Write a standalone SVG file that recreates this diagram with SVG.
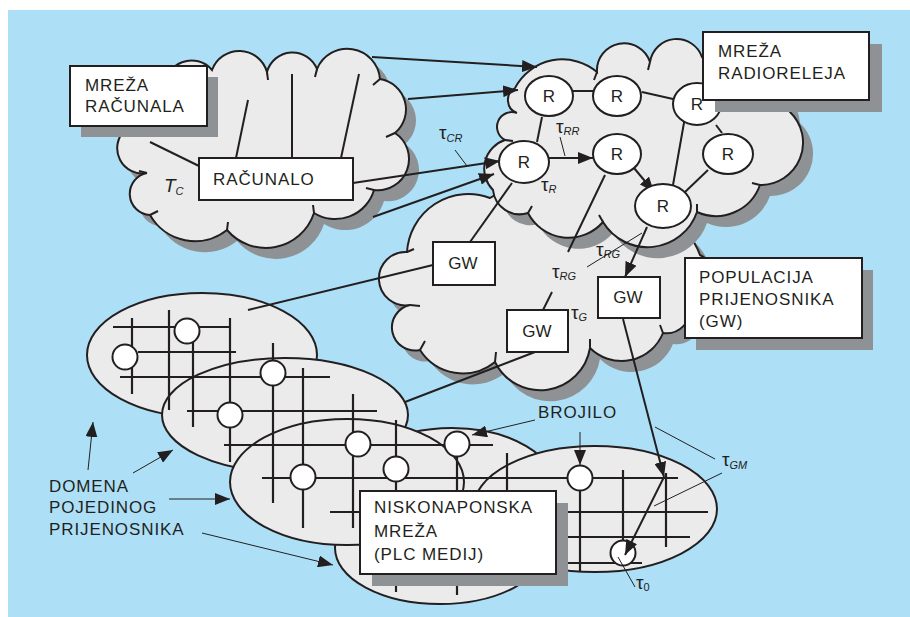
<svg xmlns="http://www.w3.org/2000/svg" width="910" height="617" viewBox="0 0 910 617">
<defs>
<style>
.bg{fill:#ade0f7}
.cl{fill:#ebebeb;stroke:#231f20;stroke-width:2}
.sh{fill:#8f9295}
.el{fill:#ebebeb;stroke:#231f20;stroke-width:2}
.ln{stroke:#231f20;stroke-width:2;fill:none}
.th{stroke:#231f20;stroke-width:1;fill:none}
.ar{marker-end:url(#ah)}
.bx{fill:#fff;stroke:#231f20;stroke-width:2}
.nd{fill:#fff;stroke:#231f20;stroke-width:2}
.gr line{stroke:#231f20;stroke-width:2.2}
.t{font-family:"Liberation Sans",Arial,Helvetica,sans-serif;font-size:17px;letter-spacing:0.9px;fill:#231f20}
.tm{text-anchor:middle;letter-spacing:0}
.tau{font-family:"Liberation Sans",Arial,sans-serif;font-size:19px;fill:#231f20}
.sub{font-size:11px;font-style:italic}
</style>
<marker id="ah" markerUnits="userSpaceOnUse" markerWidth="15" markerHeight="12" refX="15" refY="6" orient="auto"><path d="M0,0 L15,6 L0,12 Z" fill="#231f20"/></marker>
<path id="c1" d="M165,88 A26.6,26.6 0 0 1 212,70 A28.9,28.9 0 0 1 267,72 A26.4,26.4 0 0 1 317,69 A32.8,32.8 0 0 1 380,79 A30.8,30.8 0 0 1 395,133 A31.2,31.2 0 0 1 374,190 A40.3,40.3 0 0 1 314,213 A50.8,50.8 0 0 1 227,230 A51.7,51.7 0 0 1 150,215 A21.2,21.2 0 0 1 147,173 A25.2,25.2 0 0 1 125,130 A31,31 0 0 1 165,88 Z"/>
<path id="c2" d="M517,113 A13.8,13.8 0 0 1 515,88 A53.6,53.6 0 0 1 597,72 A27.2,27.2 0 0 1 650,62 A26.9,26.9 0 0 1 702,57 A66.6,66.6 0 0 1 790,112 A42.4,42.4 0 0 1 760,185 A46.7,46.7 0 0 1 697,212 A52.2,52.2 0 0 1 603,222 A45.6,45.6 0 0 1 528,213 A27,27 0 0 1 493,190 A30.2,30.2 0 0 1 505,140 A14.8,14.8 0 0 1 517,113 Z"/>
<path id="c3" d="M407,252 A61.5,61.5 0 0 1 490,198 A87,87 0 0 1 610,220 A64,64 0 0 1 700,255 A26.3,26.3 0 0 1 690,305 A24,24 0 0 1 663,333 A44.7,44.7 0 0 1 590,348 A50.4,50.4 0 0 1 495,362 A51,51 0 0 1 420,350 A23,23 0 0 1 410,305 A26.7,26.7 0 1 1 407,252 Z"/>
</defs>

<rect class="bg" x="8" y="10" width="902" height="607"/>

<g id="domains">
<ellipse id="domain1" class="el" cx="202" cy="355" rx="115" ry="62"/>
<ellipse id="domain2" class="el" cx="285" cy="415" rx="123" ry="57"/>
<ellipse id="domain4" class="el" cx="452" cy="490" rx="105" ry="62"/>
<ellipse id="domain6" class="el" cx="440" cy="548" rx="105" ry="56"/>
<ellipse id="domain3" class="el" cx="347" cy="482" rx="117" ry="63"/>
<ellipse id="domain5" class="el" cx="595" cy="509" rx="122" ry="63"/>
</g>

<g id="plc-grid" class="gr">
<line x1="113" y1="327" x2="229" y2="327"/>
<line x1="138" y1="352" x2="236" y2="352"/>
<line x1="120" y1="377" x2="330" y2="377"/>
<line x1="187" y1="411" x2="377" y2="411"/>
<line x1="224" y1="445" x2="493" y2="445"/>
<line x1="262" y1="478" x2="678" y2="478"/>
<line x1="330" y1="512" x2="708" y2="512"/>
<line x1="530" y1="537" x2="690" y2="537"/>
<line x1="530" y1="563" x2="642" y2="563"/>
<line x1="132" y1="318" x2="132" y2="394"/>
<line x1="169" y1="310" x2="169" y2="410"/>
<line x1="193" y1="342" x2="193" y2="427"/>
<line x1="230" y1="318" x2="230" y2="462"/>
<line x1="273" y1="343" x2="273" y2="503"/>
<line x1="303" y1="368" x2="303" y2="528"/>
<line x1="353" y1="394" x2="353" y2="528"/>
<line x1="396" y1="420" x2="396" y2="592"/>
<line x1="457" y1="444" x2="457" y2="595"/>
<line x1="507" y1="453" x2="507" y2="560"/>
<line x1="580" y1="478" x2="580" y2="572"/>
<line x1="623" y1="470" x2="623" y2="553"/>
<line x1="666" y1="473" x2="666" y2="547"/>
</g>

<g id="meters">
<circle class="nd" cx="125" cy="357" r="12.5"/>
<circle class="nd" cx="187" cy="331" r="12.5"/>
<circle class="nd" cx="230" cy="415" r="12.5"/>
<circle class="nd" cx="273" cy="373" r="12.5"/>
<circle class="nd" cx="358" cy="444" r="12.5"/>
<circle class="nd" cx="303" cy="477" r="12.5"/>
<circle class="nd" cx="396" cy="469" r="12.5"/>
<circle class="nd" cx="457" cy="444" r="12.5"/>
<circle class="nd" cx="580" cy="478" r="12.5"/>
<circle class="nd" cx="623" cy="553" r="12.5"/>
</g>

<g id="cloud-gateways">
<use href="#c3" class="sh" transform="translate(10,11)"/>
<use href="#c3" class="cl"/>
<path class="ln" d="M407,252 l7,-3 M410,305 l10,1 M420,350 l5,-9 M495,362 l1,-10 M590,348 l0,-9 M663,333 l-3,-8"/>
</g>
<g id="cloud-computers">
<use href="#c1" class="sh" transform="translate(10,11)"/>
<use href="#c1" class="cl"/>
<path class="ln" d="M267,72 l1,8 M317,69 l-2,8 M380,79 l-7,6 M395,133 l-9,4 M374,190 l-8,-2 M314,213 l-1,-8 M227,230 l1,-8 M150,215 l8,-4 M147,173 l-8,-2"/>
</g>
<g id="cloud-radio">
<use href="#c2" class="sh" transform="translate(10,11)"/>
<use href="#c2" class="cl"/>
<path class="ln" d="M597,72 l-3,8 M650,62 l-2,8 M760,185 l-8,-2 M697,212 l0,-8 M603,222 l-4,-7 M528,213 l4,-7 M505,140 l8,1"/>
</g>

<g id="connectors">
<line class="ln" x1="150" y1="142" x2="199" y2="166"/>
<line class="ln" x1="248" y1="100" x2="236" y2="158"/>
<line class="ln" x1="292" y1="74" x2="292" y2="158"/>
<line class="ln" x1="359" y1="74" x2="341" y2="158"/>
<line class="ln ar" x1="372" y1="57" x2="537" y2="67"/>
<line class="ln ar" x1="408" y1="99" x2="518" y2="90"/>
<line class="ln ar" x1="353" y1="183" x2="500" y2="161"/>
<line class="ln ar" x1="373" y1="217" x2="494" y2="174"/>
<line class="th" x1="455" y1="150" x2="467" y2="166"/>
<line class="ln" x1="573" y1="91" x2="593" y2="91"/>
<line class="ln" x1="642" y1="92" x2="673" y2="99"/>
<line class="ln" x1="542" y1="117" x2="537" y2="142"/>
<line class="ln ar" x1="549" y1="158" x2="593" y2="158"/>
<line class="ln ar" x1="634" y1="168" x2="654" y2="192"/>
<line class="ln" x1="685" y1="117" x2="673" y2="185"/>
<line class="ln" x1="716" y1="125" x2="722" y2="133"/>
<line class="ln" x1="708" y1="170" x2="685" y2="192"/>
<line class="ln ar" x1="647" y1="227" x2="625" y2="277"/>
<line class="th" x1="560" y1="137" x2="565" y2="156"/>
<line class="ln" x1="512" y1="183" x2="470" y2="242"/>
<line class="ln" x1="605" y1="175" x2="568" y2="252"/>
<line class="th" x1="587" y1="267" x2="642" y2="233"/>
<line class="ln" x1="543" y1="310" x2="552" y2="292"/>
<line class="ln" x1="433" y1="265" x2="248" y2="310"/>
<line class="ln" x1="535" y1="352" x2="405" y2="402"/>
<line class="ln ar" x1="623" y1="319" x2="664" y2="477"/>
<line class="ln ar" x1="664" y1="477" x2="625" y2="555"/>
<line class="th" x1="655" y1="427" x2="715" y2="459"/>
<line class="th" x1="722" y1="473" x2="654" y2="506"/>
<line class="th" x1="618" y1="557" x2="635" y2="587"/>
<line class="th ar" x1="535" y1="420" x2="472" y2="435"/>
<line class="th ar" x1="580" y1="432" x2="580" y2="465"/>
<line class="th ar" x1="88" y1="470" x2="93" y2="422"/>
<line class="th ar" x1="133" y1="473" x2="173" y2="450"/>
<line class="th ar" x1="169" y1="499" x2="230" y2="499"/>
<line class="th ar" x1="202" y1="533" x2="333" y2="565"/>
</g>

<g id="relays">
<g id="r1"><ellipse class="nd" cx="549" cy="96" rx="24" ry="20"/><text class="t tm" x="549" y="102">R</text></g>
<g id="r2"><ellipse class="nd" cx="617" cy="96" rx="24" ry="20"/><text class="t tm" x="617" y="102">R</text></g>
<g id="r3"><ellipse class="nd" cx="697" cy="104" rx="24" ry="21"/><text class="t tm" x="697" y="110">R</text></g>
<g id="r4"><ellipse class="nd" cx="524" cy="162" rx="25" ry="21"/><text class="t tm" x="524" y="168">R</text></g>
<g id="r5"><ellipse class="nd" cx="617" cy="154" rx="24" ry="20"/><text class="t tm" x="617" y="160">R</text></g>
<g id="r6"><ellipse class="nd" cx="728" cy="154" rx="25" ry="20"/><text class="t tm" x="728" y="160">R</text></g>
<g id="r7"><ellipse class="nd" cx="663" cy="206" rx="28" ry="22"/><text class="t tm" x="663" y="212">R</text></g>
</g>

<g id="gateways">
<g id="gw1"><rect class="bx" x="433" y="242" width="62" height="43"/><text class="t tm" x="463" y="269">GW</text></g>
<g id="gw2"><rect class="bx" x="507" y="310" width="61" height="42"/><text class="t tm" x="537" y="337">GW</text></g>
<g id="gw3"><rect class="bx" x="598" y="277" width="62" height="41"/><text class="t tm" x="628" y="303">GW</text></g>
</g>

<g id="computer">
<rect class="bx" x="199" y="158" width="154" height="42"/>
<text class="t" x="213" y="185">RAČUNALO</text>
</g>

<g id="label-mreza-racunala">
<rect class="sh" x="81" y="77" width="137" height="60"/>
<rect class="bx" x="70" y="66" width="137" height="60"/>
<text class="t" x="85" y="91">MREŽA</text>
<text class="t" x="85" y="112">RAČUNALA</text>
</g>

<g id="label-radioreleji">
<rect class="sh" x="715" y="44" width="167" height="68"/>
<rect class="bx" x="703" y="32" width="166" height="68"/>
<text class="t" x="718" y="57">MREŽA</text>
<text class="t" x="718" y="79">RADIORELEJA</text>
</g>

<g id="label-populacija">
<rect class="sh" x="696" y="270" width="177" height="80"/>
<rect class="bx" x="685" y="258" width="177" height="80"/>
<text class="t" x="699" y="283">POPULACIJA</text>
<text class="t" x="699" y="305">PRIJENOSNIKA</text>
<text class="t" x="699" y="327">(GW)</text>
</g>

<g id="label-niskonaponska">
<rect class="sh" x="372" y="503" width="196" height="83"/>
<rect class="bx" x="360" y="491" width="196" height="83"/>
<text class="t" x="374" y="513">NISKONAPONSKA</text>
<text class="t" x="374" y="537">MREŽA</text>
<text class="t" x="374" y="560">(PLC MEDIJ)</text>
</g>

<g id="labels">
<text class="t" x="538" y="418">BROJILO</text>
<text class="t" x="49" y="492">DOMENA</text>
<text class="t" x="49" y="513">POJEDINOG</text>
<text class="t" x="49" y="535">PRIJENOSNIKA</text>
<text class="tau" x="164" y="192" font-style="italic" font-size="17">T<tspan class="sub" dy="3">C</tspan></text>
<text class="tau" x="439" y="139">τ<tspan class="sub" dy="3">CR</tspan></text>
<text class="tau" x="556" y="133">τ<tspan class="sub" dy="2">RR</tspan></text>
<text class="tau" x="541" y="191">τ<tspan class="sub" dy="2">R</tspan></text>
<text class="tau" x="596" y="256">τ<tspan class="sub" dy="2">RG</tspan></text>
<text class="tau" x="552" y="278">τ<tspan class="sub" dy="2">RG</tspan></text>
<text class="tau" x="571" y="319">τ<tspan class="sub" dy="2">G</tspan></text>
<text class="tau" x="722" y="466">τ<tspan class="sub" dy="3">GM</tspan></text>
<text class="tau" x="636" y="589">τ<tspan font-size="11" dy="2">0</tspan></text>
</g>
</svg>
